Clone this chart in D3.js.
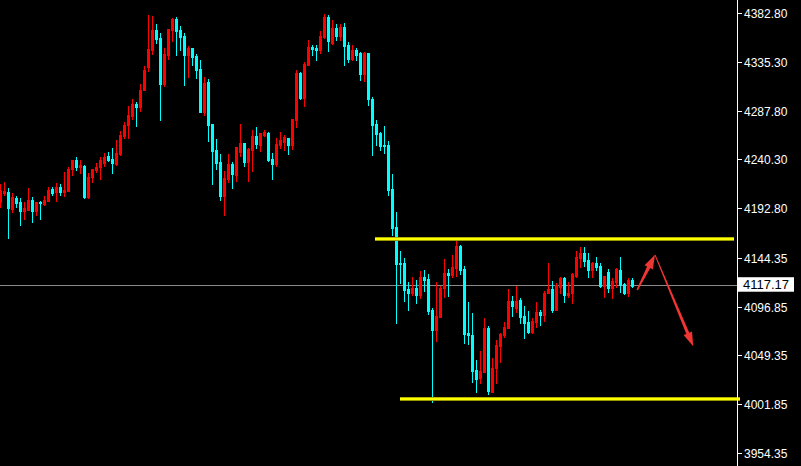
<!DOCTYPE html>
<html><head><meta charset="utf-8">
<script src="https://cdn.jsdelivr.net/npm/d3@7"></script>
<style>html,body{margin:0;padding:0;background:#000;overflow:hidden}</style>
</head><body>
<svg id="c" width="801" height="466"></svg>
<script>
const opens = [
4198.9,4207.6,4208.6,4192.0,4202.8,4198.9,4190.1,4191.1,4200.8,4190.1,
4198.9,4196.9,4199.8,4211.5,4208.6,4213.5,4208.6,4209.6,4231.0,4239.8,
4233.0,4233.9,4203.7,4223.2,4230.1,4233.0,4236.9,4243.7,4240.8,4235.9,
4245.7,4263.2,4273.9,4282.7,4294.4,4291.5,4308.1,4330.5,4347.1,4366.6,
4358.8,4313.9,4342.2,4366.6,4377.3,4366.6,4360.7,4342.2,4349.0,4341.2,
4328.5,4286.6,4315.9,4274.9,4249.6,4237.9,4204.7,4221.3,4235.9,4225.2,
4247.6,4256.4,4237.9,4249.6,4263.2,4254.4,4264.2,4266.1,4240.8,4235.9,
4254.4,4257.4,4261.3,4254.4,4278.8,4324.6,4300.3,4332.4,4350.0,4349.0,
4347.1,4359.7,4379.2,4353.9,4368.5,4360.7,4369.5,4351.9,4338.3,4347.1,
4344.1,4323.7,4344.1,4299.3,4274.9,4266.1,4254.4,4254.4,4211.5,4174.5,
4139.4,4139.4,4114.0,4110.1,4115.0,4108.2,4125.7,4123.8,4093.6,4074.1,
4086.7,4115.0,4129.6,4127.7,4134.5,4155.9,4133.5,4071.1,4069.2,4035.1,
4027.3,4033.1,4076.0,4013.6,4037.0,4058.5,4069.2,4076.0,4102.3,4095.5,
4103.3,4087.7,4081.9,4072.1,4081.9,4091.6,4088.7,4110.1,4114.0,4093.6,
4116.0,4124.8,4108.2,4110.1,4126.7,4144.3,4149.1,4142.3,4132.6,4139.4,
4136.4,4116.9,4130.6,4115.0,4120.9,4132.6,4118.9,4110.1,4122.8];
const highs = [
4216.4,4218.4,4212.5,4207.6,4204.7,4202.8,4198.9,4212.5,4203.7,4198.9,
4199.8,4204.7,4213.5,4213.5,4217.4,4216.4,4228.1,4233.0,4239.8,4242.7,
4239.8,4234.9,4227.1,4231.0,4236.9,4242.7,4246.6,4247.6,4251.5,4259.3,
4268.1,4276.9,4292.5,4299.3,4296.4,4313.9,4331.5,4381.2,4380.2,4372.4,
4363.6,4349.0,4367.5,4378.3,4379.2,4370.5,4363.6,4350.9,4349.0,4343.2,
4337.3,4320.7,4318.8,4274.9,4260.3,4245.7,4229.1,4245.7,4237.9,4252.5,
4274.9,4256.4,4251.5,4269.1,4272.0,4266.1,4269.1,4267.1,4246.6,4261.3,
4267.1,4264.2,4261.3,4279.8,4327.6,4325.6,4335.4,4356.8,4351.9,4351.9,
4365.6,4382.1,4381.2,4376.3,4372.4,4372.4,4373.4,4354.8,4351.9,4349.0,
4345.1,4345.1,4344.1,4301.2,4278.8,4267.1,4272.9,4258.3,4226.2,4189.1,
4151.1,4144.3,4120.9,4125.7,4122.8,4131.6,4132.6,4128.7,4095.5,4120.9,
4116.9,4143.3,4133.5,4147.2,4161.8,4156.9,4136.4,4101.4,4090.6,4044.8,
4053.6,4085.7,4078.0,4046.8,4064.3,4071.1,4081.9,4114.0,4107.2,4116.9,
4105.2,4097.5,4092.6,4085.7,4101.4,4093.6,4112.1,4139.4,4121.8,4119.9,
4125.7,4125.7,4120.9,4129.6,4151.1,4155.0,4155.0,4149.1,4140.3,4145.2,
4139.4,4126.7,4133.5,4124.8,4134.5,4145.2,4119.9,4124.8,4124.8];
const lows = [
4194.0,4205.7,4163.8,4189.1,4194.0,4176.4,4182.3,4191.1,4179.3,4186.2,
4182.3,4195.9,4199.8,4205.7,4199.8,4205.7,4204.7,4209.6,4225.2,4230.1,
4227.1,4202.8,4202.8,4218.4,4228.1,4221.3,4233.9,4238.8,4227.1,4234.9,
4244.7,4261.3,4261.3,4279.8,4272.9,4287.6,4308.1,4326.6,4343.2,4353.9,
4278.8,4311.9,4338.3,4355.8,4342.2,4347.1,4312.9,4320.7,4332.4,4319.8,
4286.6,4283.7,4258.3,4216.4,4231.0,4200.8,4186.2,4218.4,4212.5,4219.3,
4243.7,4233.9,4219.3,4229.1,4251.5,4248.6,4263.2,4238.8,4221.3,4233.9,
4251.5,4249.6,4245.7,4250.5,4272.0,4299.3,4292.5,4332.4,4342.2,4337.3,
4344.1,4358.8,4346.1,4352.9,4356.8,4356.8,4332.4,4335.4,4337.3,4337.3,
4317.8,4316.8,4293.4,4244.7,4254.4,4249.6,4246.6,4205.7,4166.7,4080.9,
4119.9,4102.3,4093.6,4108.2,4100.4,4105.2,4112.1,4089.7,4003.8,4063.3,
4086.7,4106.2,4107.2,4125.7,4126.7,4128.7,4061.4,4060.4,4023.4,4013.6,
4022.4,4033.1,4011.7,4013.6,4022.4,4042.9,4067.2,4076.0,4087.7,4091.6,
4080.9,4066.3,4071.1,4071.1,4077.0,4078.9,4082.8,4110.1,4091.6,4093.6,
4110.1,4101.4,4106.2,4100.4,4125.7,4135.5,4136.4,4125.7,4125.7,4132.6,
4116.0,4106.2,4111.1,4105.2,4116.0,4111.1,4109.2,4107.2,4116.0];
const closes = [
4210.6,4209.6,4193.0,4203.7,4197.9,4190.1,4193.0,4200.8,4190.1,4198.9,
4197.9,4200.8,4210.6,4207.6,4213.5,4208.6,4210.6,4231.0,4239.8,4233.0,
4234.9,4203.7,4223.2,4231.0,4233.0,4239.8,4242.7,4239.8,4236.9,4246.6,
4264.2,4273.9,4283.7,4294.4,4291.5,4308.1,4327.6,4348.0,4366.6,4357.8,
4313.9,4343.2,4367.5,4377.3,4365.6,4359.7,4342.2,4349.0,4340.2,4327.6,
4286.6,4314.9,4273.9,4248.6,4236.9,4204.7,4222.3,4235.9,4226.2,4252.5,
4256.4,4237.9,4250.5,4263.2,4255.4,4266.1,4267.1,4239.8,4235.9,4255.4,
4259.3,4262.2,4254.4,4279.8,4324.6,4300.3,4333.4,4350.0,4348.0,4347.1,
4360.7,4379.2,4355.8,4368.5,4360.7,4369.5,4350.9,4338.3,4347.1,4342.2,
4323.7,4344.1,4299.3,4273.9,4265.2,4253.5,4253.5,4210.6,4173.5,4138.4,
4138.4,4113.1,4110.1,4115.0,4108.2,4125.7,4122.8,4092.6,4074.1,4087.7,
4115.0,4129.6,4127.7,4135.5,4155.9,4132.6,4070.2,4069.2,4034.1,4026.3,
4034.1,4076.0,4014.6,4037.0,4059.4,4070.2,4077.0,4102.3,4097.5,4102.3,
4086.7,4080.9,4072.1,4082.8,4091.6,4088.7,4110.1,4114.0,4093.6,4117.9,
4124.8,4108.2,4110.1,4128.7,4145.2,4149.1,4141.3,4132.6,4139.4,4135.5,
4116.9,4126.7,4115.0,4121.8,4133.5,4117.9,4110.1,4122.8,4117.17];

const tickValues = [4382.80,4335.30,4287.80,4240.30,4192.80,4144.35,4096.85,4049.35,4001.85,3954.35];
const tickLabels = ["4382.80","4335.30","4287.80","4240.30","4192.80","4144.35","4096.85","4049.35","4001.85","3954.35"];
const currentPrice = 4117.17;
const currentLabel = "4117.17";
// horizontal levels: [startBar, endBar, price]
const levelStart = [93.75, 100];
const levelEnd = [183.5, 185];
const levelPrice = [4162.8, 4006.8];
// arrow path points (bar index, price)
const arrowBars = [159.3, 163.75, 173.3];
const arrowPrices = [4113.0, 4147.3, 4058.2];

const data = opens.map((o,i)=>({i, o, h:highs[i], l:lows[i], c:closes[i]}));

const svg = d3.select("#c");
svg.append("rect").attr("width",801).attr("height",466).attr("fill","#000");

const x = d3.scaleLinear().domain([0, data.length-1]).range([0, 632]);
const y = d3.scaleLinear().domain([3954.35, 4382.80]).range([452.7, 13.3]);

const UP = "#ff0000", DOWN = "#00ffff";

// current price line
svg.append("line").attr("x1",0).attr("x2",737).attr("y1",Math.round(y(currentPrice))-0.5).attr("y2",Math.round(y(currentPrice))-0.5)
  .attr("stroke","#8a8a8a").attr("stroke-width",1);

// candles
const g = svg.append("g").attr("shape-rendering","crispEdges");
g.selectAll("line.w").data(data).join("line").attr("class","w")
  .attr("x1",d=>Math.round(x(d.i))+0.5).attr("x2",d=>Math.round(x(d.i))+0.5)
  .attr("y1",d=>Math.round(y(d.h))).attr("y2",d=>Math.round(y(d.l))+1)
  .attr("stroke",d=>d.c>=d.o?UP:DOWN).attr("stroke-width",1);
g.selectAll("rect.b").data(data).join("rect").attr("class","b")
  .attr("x",d=>Math.round(x(d.i))-1).attr("width",3)
  .attr("y",d=>Math.round(y(Math.max(d.o,d.c))))
  .attr("height",d=>Math.max(1, Math.round(y(Math.min(d.o,d.c))) - Math.round(y(Math.max(d.o,d.c)))+1))
  .attr("fill",d=>d.c>=d.o?UP:DOWN);

// yellow levels
levelPrice.forEach((p,k)=>{
  svg.append("line").attr("x1",x(levelStart[k])).attr("x2",x(levelEnd[k]))
    .attr("y1",y(p)).attr("y2",y(p)).attr("stroke","#9a9a00").attr("stroke-width",4);
  svg.append("line").attr("x1",x(levelStart[k])).attr("x2",x(levelEnd[k]))
    .attr("y1",y(p)).attr("y2",y(p)).attr("stroke","#ffff00").attr("stroke-width",2.4);
});

// tapered arrows
const AR = "#f03535";
function arrow(x0,y0,x1,y1,w0,w1,L,W){
  const ang = Math.atan2(y1-y0,x1-x0);
  const ux = Math.cos(ang), uy = Math.sin(ang), nx = -uy, ny = ux;
  const bx = x1 - L*ux, by = y1 - L*uy;
  const pts = [
    [x0+nx*w0/2, y0+ny*w0/2],
    [bx+nx*w1/2, by+ny*w1/2],
    [bx+nx*W, by+ny*W],
    [x1, y1],
    [bx-nx*W, by-ny*W],
    [bx-nx*w1/2, by-ny*w1/2],
    [x0-nx*w0/2, y0-ny*w0/2]
  ];
  svg.append("path").attr("d","M"+pts.map(p=>p.join(",")).join("L")+"Z").attr("fill",AR);
}
arrow(x(arrowBars[0]),y(arrowPrices[0]),x(arrowBars[1]),y(arrowPrices[1]),1.6,3.6,14,4.6);
arrow(x(arrowBars[1]),y(arrowPrices[1]),x(arrowBars[2]),y(arrowPrices[2]),1,3.2,14,4.6);

// right axis
svg.append("line").attr("x1",737.5).attr("x2",737.5).attr("y1",0).attr("y2",466).attr("stroke","#fff").attr("stroke-width",1);
const ax = svg.append("g");
tickValues.forEach((v,k)=>{
  const yy = Math.round(y(v))+0.5;
  ax.append("line").attr("x1",738).attr("x2",742).attr("y1",yy).attr("y2",yy).attr("stroke","#fff");
  ax.append("text").attr("x",744).attr("y",yy).attr("dy","0.36em").attr("fill","#fff")
    .attr("font-family","Liberation Sans, Arial, sans-serif").attr("font-size",12).text(tickLabels[k]);
});
const cy = y(currentPrice);
ax.append("rect").attr("x",738).attr("y",cy-8.5).attr("width",56).attr("height",14.5).attr("fill","#fff");
ax.append("text").attr("x",743).attr("y",cy-1.3).attr("dy","0.36em").attr("fill","#000")
  .attr("font-family","Liberation Sans, Arial, sans-serif").attr("font-size",13).text(currentLabel);
</script>
</body></html>
